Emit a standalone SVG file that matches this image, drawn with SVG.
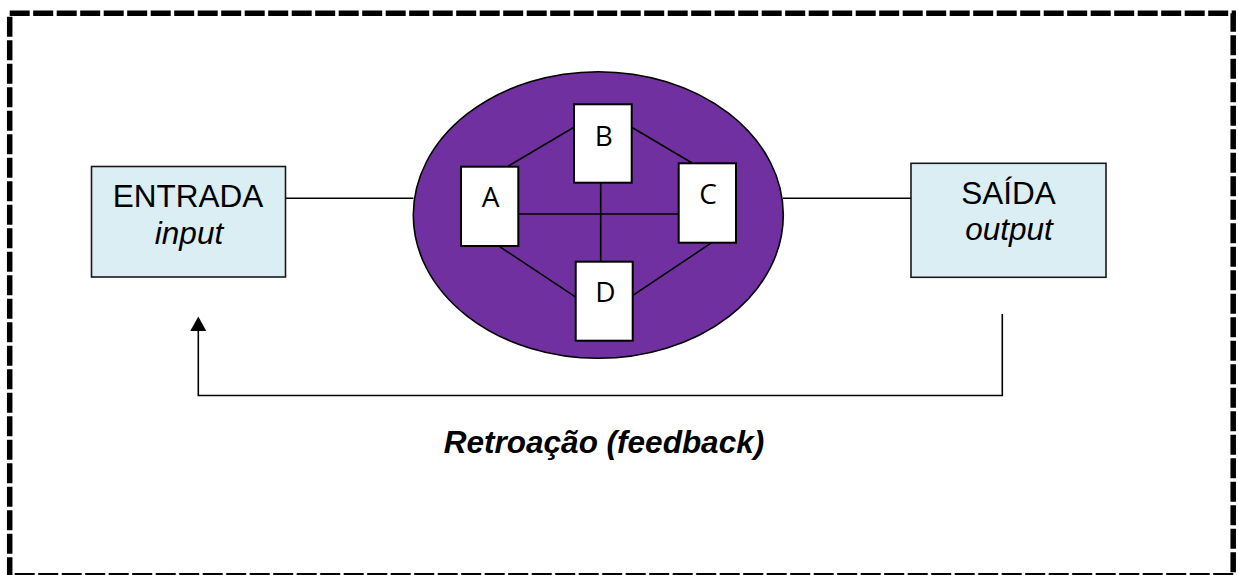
<svg xmlns="http://www.w3.org/2000/svg" width="1238" height="575" viewBox="0 0 1238 575">
<style>
.io{fill:#DAEEF3;stroke:#1a1a1a;stroke-width:1.6}
.node{fill:#ffffff;stroke:#000;stroke-width:2}
.lbl{font-family:"Open Sans","Noto Sans",sans-serif;font-size:28px;fill:#000;text-anchor:middle}
.big{font-family:"Liberation Sans",Arial,sans-serif;font-size:31.5px;fill:#000;text-anchor:middle}
.ln{stroke:#000;stroke-width:1.6;fill:none}
</style>
<rect id="frame" x="9.7" y="13.3" width="1223.5" height="562.5" fill="none" stroke="#000" stroke-width="5.5" stroke-dasharray="20 3.5"/>
<g id="connectors">
<line class="ln" x1="286" y1="198.3" x2="413.5" y2="198.3"/>
<line class="ln" x1="783" y1="198.3" x2="911" y2="198.3"/>
<path class="ln" d="M1002.3,314 V395.5 H198.3 V331" stroke-width="1.8"/>
<polygon points="198.3,316.5 190.3,331 206.3,331" fill="#000"/>
</g>
<g id="entrada">
<rect class="io" x="91.5" y="166.5" width="194" height="110.5"/>
<text class="big" x="188" y="207.3">ENTRADA</text>
<text class="big" x="189" y="244" font-style="italic">input</text>
</g>
<g id="saida">
<rect class="io" x="911" y="163.3" width="195" height="114"/>
<text class="big" x="1008.5" y="204.3">SAÍDA</text>
<text class="big" x="1009" y="239.5" font-style="italic">output</text>
</g>
<g id="processo">
<ellipse cx="598.3" cy="215" rx="185" ry="143.3" fill="#7030A0" stroke="#000" stroke-width="1.6"/>
<g id="inner-connectors">
<line class="ln" x1="507.3" y1="166.7" x2="574" y2="127.3"/>
<line class="ln" x1="631.7" y1="127.3" x2="691.7" y2="162.7"/>
<line class="ln" x1="518" y1="214" x2="679" y2="214"/>
<line class="ln" x1="600.7" y1="183" x2="600.7" y2="262"/>
<line class="ln" x1="711.7" y1="242.7" x2="631" y2="296.7"/>
<line class="ln" x1="493.3" y1="242.3" x2="575" y2="296.7"/>
</g>
<g id="nodeA">
<rect class="node" x="461" y="166.7" width="57.3" height="79.3"/>
<text class="lbl" x="490.5" y="207.3">A</text>
</g>
<g id="nodeB">
<rect class="node" x="574" y="104.3" width="57.7" height="78.4"/>
<text class="lbl" x="603.7" y="145.7">B</text>
</g>
<g id="nodeC">
<rect class="node" x="678.7" y="163.3" width="57.3" height="79.4"/>
<text class="lbl" x="708" y="204">C</text>
</g>
<g id="nodeD">
<rect class="node" x="575.7" y="261.7" width="57" height="79"/>
<text class="lbl" x="605.5" y="301.7">D</text>
</g>
</g>
<text id="feedback" class="big" x="604" y="453.3" font-weight="bold" font-style="italic">Retroação (feedback)</text>
</svg>
